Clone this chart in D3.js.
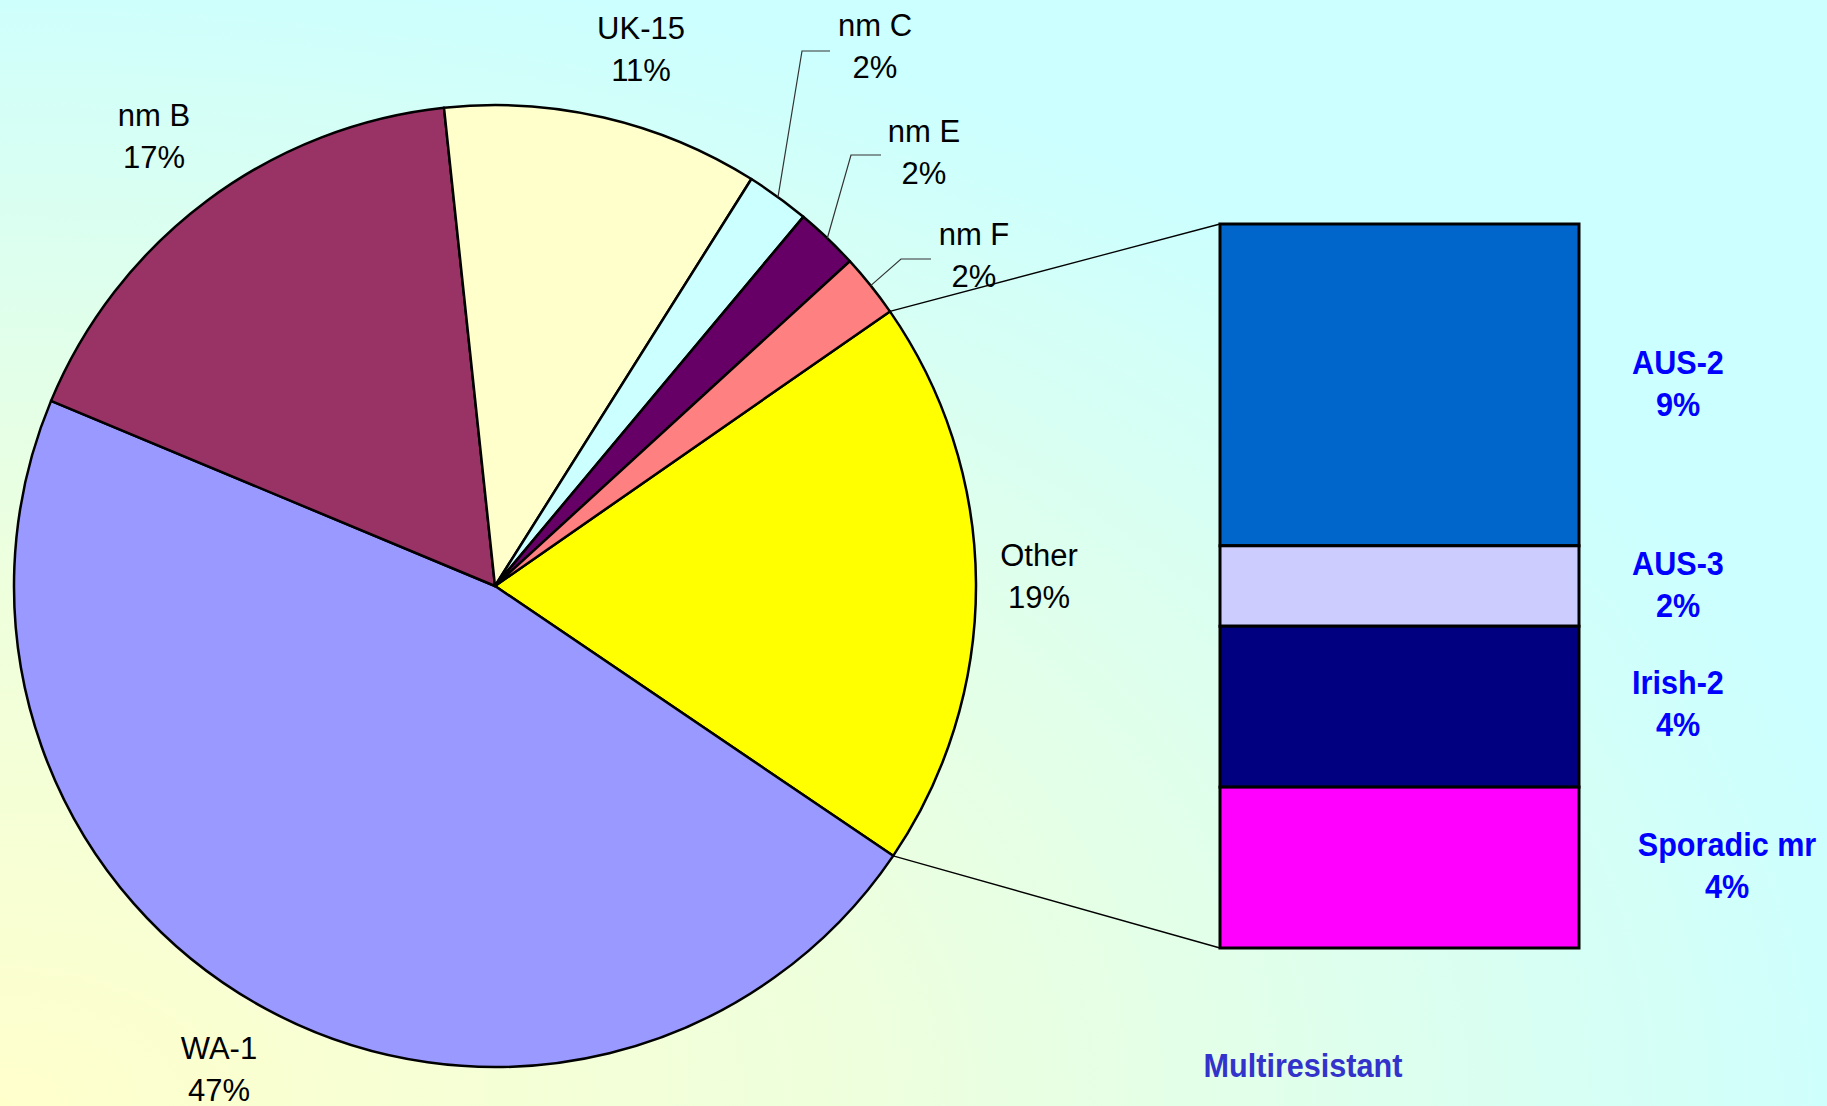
<!DOCTYPE html>
<html>
<head>
<meta charset="utf-8">
<script src="https://cdn.jsdelivr.net/npm/d3@7"></script>
<style>
  body { margin: 0; overflow: hidden; }
  text { font-family: "Liberation Sans", Arial, sans-serif; }
</style>
</head>
<body>
<script>

// pie slices (counts, total 47), clockwise starting with "Other"
const pieNames = ['Other', 'WA-1', 'nm B', 'UK-15', 'nm C', 'nm E', 'nm F']
const pieCounts = [9, 22, 8, 5, 1, 1, 1]
const pieLabels = ['19%', '47%', '17%', '11%', '2%', '2%', '2%']
const pieColors = ['#FFFF00', '#9999FF', '#993366', '#FFFFCC', '#CCFFFF', '#660066', '#FF8080']

// the "Other" slice split out into the bar
const barNames = ['AUS-2', 'AUS-3', 'Irish-2', 'Sporadic mr']
const barCounts = [4, 1, 2, 2]
const barLabels = ['9%', '2%', '4%', '4%']
const barColors = ['#0066CC', '#CCCCFF', '#000080', '#FF00FF']

const m = {
    width: 1827,
    height: 1106
}

// where each pie label sits (centre of the label block)
const pieLabelPos = {
    'Other': [1039, 573],
    'WA-1': [219, 1066],
    'nm B': [154, 133],
    'UK-15': [641, 46],
    'nm C': [875, 43],
    'nm E': [924, 149],
    'nm F': [974, 252]
}
// labels that get a leader line: elbow point next to the label
const leaderElbow = {
    'nm C': [[802, 51], [830, 51]],
    'nm E': [[851, 155], [881, 155]],
    'nm F': [[901, 259], [931, 259]]
}
const barLabPos = [[1678, 381], [1678, 582], [1678, 701], [1727, 863]]

const svg = d3.select('body').append('svg')
    .attr('width', m.width)
    .attr('height', m.height)

// background: light yellow in the bottom-left corner, cyan elsewhere
const grad = svg.append('defs').append('radialGradient')
    .attr('id', 'bg')
    .attr('cx', 0).attr('cy', 1).attr('r', 1.05)
    .attr('fx', 0).attr('fy', 1)
grad.append('stop').attr('offset', '0%').attr('stop-color', '#FFFFCC')
grad.append('stop').attr('offset', '45%').attr('stop-color', '#EEFFDD')
grad.append('stop').attr('offset', '100%').attr('stop-color', '#CCFFFF')

svg.append('rect')
    .attr('width', m.width)
    .attr('height', m.height)
    .attr('fill', 'url(#bg)')

const cx = 495, cy = 586, r = 481
const g = svg.append('g').attr('transform', `translate(${cx},${cy})`)

const total = d3.sum(pieCounts)
const otherSpan = pieCounts[0] / total * 2 * Math.PI
const start = Math.PI / 2 - otherSpan / 2 - 0.006

const pie = d3.pie()
    .sort(null)
    .value(d => d)
    .startAngle(start)
    .endAngle(start + 2 * Math.PI)

const arcs = pie(pieCounts)
const arc = d3.arc().innerRadius(0).outerRadius(r)

g.selectAll('path')
    .data(arcs)
    .enter()
    .append('path')
        .attr('d', arc)
        .attr('fill', (d, i) => pieColors[i])
        .attr('stroke', '#000')
        .attr('stroke-width', 2.5)
        .attr('stroke-linejoin', 'round')

// bar of the "Other" slice
const bar = { x0: 1220, x1: 1579, top: 224, bottom: 948 }
const y = d3.scaleLinear()
    .domain([0, d3.sum(barCounts)])
    .range([bar.top, bar.bottom])

const stacked = []
let acc = 0
barCounts.forEach(function(v, i) {
    stacked.push({ i: i, y0: acc, y1: acc + v })
    acc += v
})

// connector lines from the edges of "Other" to the bar corners
const polar = a => [cx + r * Math.sin(a), cy - r * Math.cos(a)]
const pTop = polar(arcs[0].startAngle)
const pBot = polar(arcs[0].endAngle)
svg.append('line')
    .attr('x1', pTop[0]).attr('y1', pTop[1])
    .attr('x2', bar.x0).attr('y2', y(0))
    .attr('stroke', '#000').attr('stroke-width', 1.3)
svg.append('line')
    .attr('x1', pBot[0]).attr('y1', pBot[1])
    .attr('x2', bar.x0).attr('y2', y(d3.sum(barCounts)))
    .attr('stroke', '#000').attr('stroke-width', 1.3)

svg.selectAll('.seg')
    .data(stacked)
    .enter()
    .append('rect')
        .attr('class', 'seg')
        .attr('x', bar.x0)
        .attr('width', bar.x1 - bar.x0)
        .attr('y', d => y(d.y0))
        .attr('height', d => y(d.y1) - y(d.y0))
        .attr('fill', d => barColors[d.i])
        .attr('stroke', '#000')
        .attr('stroke-width', 3)

// leader lines for the thin slices
arcs.forEach(function(d, i) {
    const name = pieNames[i]
    if (!leaderElbow[name]) return
    const mid = (d.startAngle + d.endAngle) / 2
    const p = polar(mid)
    const pts = [p].concat(leaderElbow[name])
    svg.append('polyline')
        .attr('points', pts.map(q => q.join(',')).join(' '))
        .attr('fill', 'none')
        .attr('stroke', '#333')
        .attr('stroke-width', 1.2)
})

// pie labels
pieNames.forEach(function(name, i) {
    const pos = pieLabelPos[name]
    const t = svg.append('text')
        .attr('x', pos[0])
        .attr('y', pos[1])
        .attr('text-anchor', 'middle')
        .attr('font-size', 31)
        .attr('fill', '#000')
    t.append('tspan').attr('x', pos[0]).attr('dy', '-0.24em').text(name)
    t.append('tspan').attr('x', pos[0]).attr('dy', '1.36em').text(pieLabels[i])
})

// bar labels, a little condensed like the original
barNames.forEach(function(name, i) {
    const pos = barLabPos[i]
    const t = svg.append('text')
        .attr('transform', `translate(${pos[0]},${pos[1]}) scale(0.9,1)`)
        .attr('text-anchor', 'middle')
        .attr('font-size', 34)
        .attr('font-weight', 'bold')
        .attr('fill', '#0000FF')
    t.append('tspan').attr('x', 0).attr('dy', '-0.2em').text(name)
    t.append('tspan').attr('x', 0).attr('dy', '1.24em').text(barLabels[i])
})

svg.append('text')
    .attr('transform', 'translate(1303,1077) scale(0.9,1)')
    .attr('text-anchor', 'middle')
    .attr('font-size', 34)
    .attr('font-weight', 'bold')
    .attr('fill', '#3333CC')
    .text('Multiresistant')

</script>
</body>
</html>
